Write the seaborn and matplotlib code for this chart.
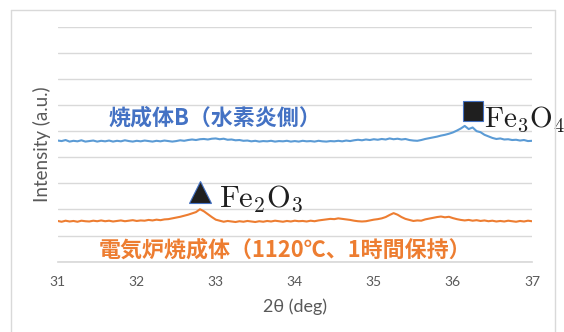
import numpy as np
import matplotlib
matplotlib.use("Agg")
import matplotlib.pyplot as plt
import seaborn as sns
from matplotlib.lines import Line2D

# scan grid (deg), 0.05 step
two_theta = np.round(np.arange(31.0, 37.0001, 0.05), 2)

# 焼成体B (水素炎側), intensity in grid units
sample_b = [
    4.64, 4.62, 4.66, 4.60, 4.63, 4.61, 4.65, 4.60, 4.62, 4.64,
    4.60, 4.63, 4.61, 4.64, 4.60, 4.63, 4.61, 4.65, 4.62, 4.60,
    4.63, 4.61, 4.64, 4.62, 4.60, 4.63, 4.61, 4.64, 4.62, 4.60,
    4.62, 4.65, 4.63, 4.66, 4.68, 4.66, 4.69, 4.70, 4.68, 4.71,
    4.72, 4.69, 4.71, 4.67, 4.68, 4.65, 4.66, 4.63, 4.64, 4.61,
    4.63, 4.60, 4.62, 4.61, 4.63, 4.60, 4.62, 4.61, 4.63, 4.60,
    4.62, 4.60, 4.63, 4.61, 4.62, 4.60, 4.63, 4.61, 4.60, 4.62,
    4.61, 4.63, 4.61, 4.64, 4.62, 4.65, 4.67, 4.65, 4.68, 4.66,
    4.69, 4.67, 4.70, 4.68, 4.72, 4.69, 4.71, 4.68, 4.70, 4.66,
    4.64, 4.63, 4.66, 4.70, 4.73, 4.76, 4.79, 4.83, 4.86, 4.90,
    4.95, 5.02, 5.10, 5.20, 5.08, 5.14, 5.00, 4.96, 4.86, 4.80,
    4.74, 4.70, 4.72, 4.68, 4.69, 4.66, 4.67, 4.64, 4.66, 4.62,
    4.63,
]

# 電気炉焼成体 (1120℃, 1時間保持)
furnace = [
    1.56, 1.53, 1.57, 1.54, 1.56, 1.53, 1.57, 1.55, 1.54, 1.57,
    1.55, 1.58, 1.55, 1.57, 1.54, 1.56, 1.58, 1.55, 1.57, 1.59,
    1.56, 1.58, 1.57, 1.60, 1.58, 1.61, 1.59, 1.62, 1.63, 1.66,
    1.69, 1.72, 1.76, 1.80, 1.85, 1.90, 2.01, 1.93, 1.82, 1.71,
    1.61, 1.57, 1.53, 1.56, 1.54, 1.52, 1.55, 1.53, 1.56, 1.54,
    1.52, 1.55, 1.53, 1.56, 1.54, 1.57, 1.55, 1.53, 1.56, 1.54,
    1.57, 1.55, 1.56, 1.54, 1.57, 1.55, 1.58, 1.60, 1.62, 1.64,
    1.63, 1.66, 1.64, 1.62, 1.60, 1.57, 1.55, 1.54, 1.55, 1.58,
    1.61, 1.63, 1.66, 1.71, 1.79, 1.86, 1.80, 1.71, 1.64, 1.60,
    1.56, 1.58, 1.57, 1.62, 1.65, 1.68, 1.71, 1.73, 1.70, 1.72,
    1.67, 1.63, 1.60, 1.58, 1.60, 1.57, 1.59, 1.56, 1.58, 1.55,
    1.57, 1.54, 1.56, 1.54, 1.57, 1.55, 1.53, 1.56, 1.54, 1.57,
    1.55,
]

x_ticks = [31, 32, 33, 34, 35, 36, 37]
label_b = "焼成体B（水素炎側）"
label_furnace = "電気炉焼成体（1120℃、1時間保持）"

sns.set_theme(style="white")
plt.rcParams["font.family"] = ["Noto Sans CJK JP", "DejaVu Sans"]
plt.rcParams["mathtext.fontset"] = "cm"

blue_line = "#5b9bd5"
blue_text = "#4472c4"
orange = "#ed7d31"
grid_c = "#d9d9d9"
gray_txt = "#595959"
ink = "#1f1f1f"

W, H = 564, 332
fig = plt.figure(figsize=(W / 100, H / 100), dpi=100)
ax = fig.add_axes([57.7 / W, 1 - 261.7 / H, (531.9 - 57.7) / W, 235 / H])

sns.lineplot(x=two_theta, y=sample_b, ax=ax, color=blue_line, lw=1.5)
sns.lineplot(x=two_theta, y=furnace, ax=ax, color=orange, lw=1.5)

ax.set_xlim(31, 37)
ax.set_ylim(0, 9)
ax.set_yticks(range(0, 10))
ax.set_yticklabels([])
ax.set_xticks(x_ticks)
ax.set_xticklabels([str(t) for t in x_ticks], fontsize=10, color=gray_txt,
                   family="Lato")
ax.tick_params(axis="both", length=0)
ax.tick_params(axis="x", pad=10)
ax.grid(axis="y", color=grid_c, lw=1)
for s in ["top", "right", "left"]:
    ax.spines[s].set_visible(False)
ax.spines["bottom"].set_color(grid_c)
ax.set_axisbelow(True)

ax.set_xlabel("2θ (deg)", fontsize=13, color=gray_txt, family="Lato", labelpad=8)
ax.set_ylabel("Intensity (a.u.)", fontsize=13.5, color=gray_txt, family="Lato")
ax.yaxis.set_label_coords(-0.014, 0.5)

# series labels
ax.text(31.64, 5.49, label_b, color=blue_text, fontsize=15.8, fontweight="bold",
        va="center", ha="left")
ax.text(31.52, 0.45, label_furnace, color=orange, fontsize=15.8, fontweight="bold",
        va="center", ha="left")

# phase markers above the peaks
fb = np.array(furnace)
sb = np.array(sample_b)
i_fe2o3 = int(np.argmax(fb))
i_fe3o4 = int(np.argmax(sb))
ax.plot(two_theta[i_fe2o3], fb[i_fe2o3] + 0.67, marker="^", ms=16, color=ink,
        mec=blue_text, mew=0.8, clip_on=False)
ax.text(two_theta[i_fe2o3] + 0.24, fb[i_fe2o3] + 0.1, r"$\mathrm{Fe_2O_3}$",
        fontsize=22, color=ink, va="baseline", ha="left")
ax.plot(two_theta[i_fe3o4] + 0.1, sb[i_fe3o4] + 0.57, marker="s", ms=14, color=ink,
        mec=blue_text, mew=0.8, clip_on=False)
ax.text(two_theta[i_fe3o4] + 0.25, sb[i_fe3o4] - 0.03, r"$\mathrm{Fe_3O_4}$",
        fontsize=21, color=ink, va="baseline", ha="left", clip_on=False)

# chart area frame
xl, xr, yt = 10.8 / W, 555.3 / W, 1 - 10 / H
for xs, ys in [([xl, xl], [0, yt]), ([xl, xr], [yt, yt]), ([xr, xr], [0, yt])]:
    fig.add_artist(Line2D(xs, ys, color=grid_c, lw=1, transform=fig.transFigure))

fig.savefig("out.png", dpi=100)
